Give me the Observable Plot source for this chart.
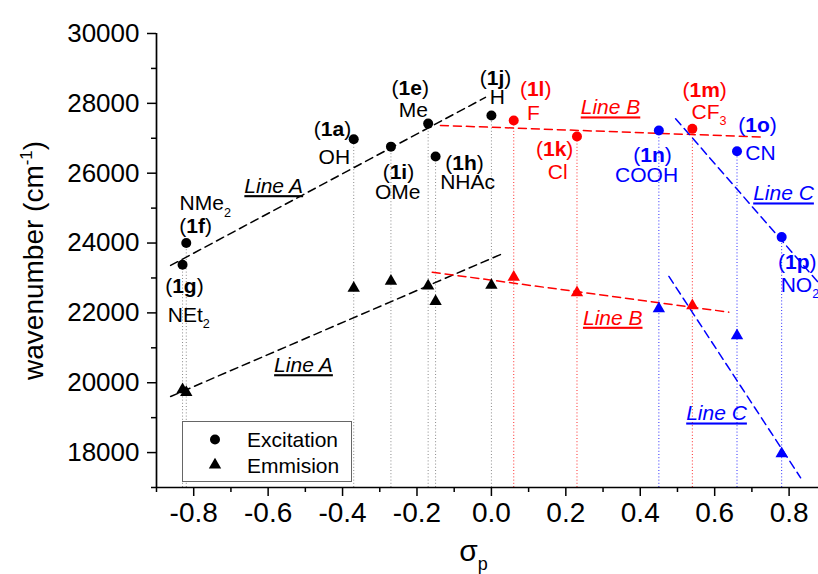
<!DOCTYPE html>
<html><head><meta charset="utf-8">
<script src="https://cdn.jsdelivr.net/npm/d3@7"></script>
<script src="https://cdn.jsdelivr.net/npm/@observablehq/plot@0.6"></script>
<style>
html,body{margin:0;padding:0;background:#fff;overflow:hidden;}
#wrap{position:relative;width:818px;height:574px;font-family:"Liberation Sans",Arial,sans-serif;}
#legend{position:absolute;left:182px;top:421px;}
</style></head><body>
<div id="wrap"></div>
<script>
// ---- data ----
const ids = ["1g","1f","1a","1i","1e","1h","1j","1l","1k","1n","1m","1o","1p"];
const substituents = ["NEt_{2}","NMe_{2}","OH","OMe","Me","NHAc","H","F","Cl","COOH","CF_{3}","CN","NO_{2}"];
const groups = ["A","A","A","A","A","A","A","B","B","C","B","C","C"];
const sigma = [-0.83,-0.82,-0.37,-0.27,-0.17,-0.15,0.00,0.06,0.23,0.45,0.54,0.66,0.78];
const excitation = [23380,24000,26970,26760,27420,26480,27650,27510,27050,27220,27270,26630,24170];
const emission = [19800,19720,22710,22910,22770,22330,22790,23020,22580,22120,22210,21350,17970];

// label anchors (data units)
const idLabelSigma = [-0.825,-0.795,-0.427,-0.250,-0.218,-0.072,0.011,0.119,0.170,0.433,0.573,0.715,0.822];
const idLabelWn = [22565,24283,27061,25841,28247,26099,28533,28207,26480,26317,28178,27176,23264];
const nameLabelSigma = [-0.813,-0.769,-0.422,-0.252,-0.210,-0.064,0.016,0.113,0.178,0.417,0.585,0.723,0.829];
const nameLabelWn = [21734,24933,26251,25268,27605,25555,27969,27511,25841,25744,27560,26385,22593];

// fitted lines
const fitKeys = ["A-exc","A-em","B-exc","B-em","C-exc","C-em"];
const fitGroups = ["A","A","B","B","C","C"];
const fitSigma = [[-0.862,-0.016],[-0.862,0.033],[-0.137,0.732],[-0.159,0.638],[0.495,0.879],[0.477,0.831]];
const fitWn = [[23358,28170],[19606,23710],[27368,27033],[23166,22021],[27560,22864],[23043,17278]];

const lineLabelText = ["Line A","Line A","Line B","Line B","Line C","Line C"];
const lineLabelGroup = ["A","A","B","B","C","C"];
const lineLabelSigma = [-0.585,-0.505,0.320,0.326,0.785,0.605];
const lineLabelWn = [25429,20302,27683,21660,25220,18919];

const xTicks = [-0.8,-0.6,-0.4,-0.2,0.0,0.2,0.4,0.6,0.8];
const xMinor = [-0.9,-0.7,-0.5,-0.3,-0.1,0.1,0.3,0.5,0.7];
const yTicks = [18000,20000,22000,24000,26000,28000,30000];
const yMinor = [17000,19000,21000,23000,25000,27000,29000];
const xDomain = [-0.9, 0.879];
const yDomain = [17000, 30000];

// ---- build ----
const colorOf = {A: "#000000", B: "#ff0000", C: "#0000ff"};
const dropOf = {A: "#8a8a8a", B: "#ff2a2a", C: "#2a2aff"};
const pts = ids.map((id, i) => ({id, name: substituents[i], group: groups[i], sigma: sigma[i], exc: excitation[i], em: emission[i]}));
const idRows = ids.map((id, i) => ({t: `(**${id}**)`, x: idLabelSigma[i], y: idLabelWn[i], group: groups[i]}));
const nameRows = substituents.map((s, i) => ({t: s, x: nameLabelSigma[i], y: nameLabelWn[i], group: groups[i]}));
const fitRows = fitKeys.flatMap((k, i) => fitSigma[i].map((s, j) => ({key: k, group: fitGroups[i], x: s, y: fitWn[i][j]})));
const lineLabelRows = lineLabelText.map((t, i) => ({t, x: lineLabelSigma[i], y: lineLabelWn[i], group: lineLabelGroup[i]}));

const font = '"Liberation Sans", Arial, sans-serif';
const plot = Plot.plot({
  width: 818, height: 574,
  marginLeft: 156, marginRight: 0, marginTop: 33, marginBottom: 87,
  style: {fontFamily: font, background: "white", color: "black"},
  x: {domain: xDomain, label: null},
  y: {domain: yDomain, label: null},
  marks: [
    Plot.ruleX(pts, {x: "sigma", y1: () => yDomain[0], y2: "exc", stroke: d => dropOf[d.group], strokeWidth: 1, strokeDasharray: "1,2.2"}),
    Plot.line(fitRows, {x: "x", y: "y", z: "key", stroke: d => colorOf[d.group], strokeWidth: 1.5, strokeDasharray: "8,5", clip: true}),
    Plot.ruleY([yDomain[0]], {stroke: "black", strokeWidth: 1.7}),
    Plot.ruleX([xDomain[0]], {stroke: "black", strokeWidth: 1.7}),
    Plot.axisX(xTicks, {tickFormat: d => d.toFixed(1), tickSize: 9, tickPadding: 6, fontSize: 28, strokeWidth: 1.5, label: null}),
    Plot.axisX(xMinor, {tickFormat: () => "", tickSize: 5, strokeWidth: 1.5, label: null}),
    Plot.axisY(yTicks, {tickFormat: d => String(d), tickSize: 9, tickPadding: 8, fontSize: 26, strokeWidth: 1.5, label: null}),
    Plot.axisY(yMinor, {tickFormat: () => "", tickSize: 5, strokeWidth: 1.5, label: null}),
    Plot.dot(pts, {x: "sigma", y: "exc", r: 5, fill: d => colorOf[d.group], symbol: "circle"}),
    Plot.dot(pts, {x: "sigma", y: "em", r: 4.6, fill: d => colorOf[d.group], symbol: "triangle"}),
    Plot.text(idRows, {x: "x", y: "y", text: "t", fill: d => colorOf[d.group], fontSize: 21, textAnchor: "middle", lineAnchor: "bottom"}),
    Plot.text(nameRows, {x: "x", y: "y", text: "t", fill: d => colorOf[d.group], fontSize: 21, textAnchor: "middle", lineAnchor: "bottom"}),
    Plot.text(lineLabelRows, {x: "x", y: "y", text: "t", fill: d => colorOf[d.group], fontSize: 21, fontStyle: "italic", textAnchor: "middle", lineAnchor: "bottom"}),
    Plot.text(["wavenumber (cm^{-1})"], {text: d => d, frameAnchor: "left", rotate: -90, dx: -122, fontSize: 28, lineAnchor: "middle", textAnchor: "middle", fill: "black"}),
    Plot.text(["σ_{p}"], {text: d => d, frameAnchor: "bottom", dx: -14, dy: 64, fontSize: 30, lineAnchor: "middle", textAnchor: "middle", fill: "black"})
  ]
});

const wrap = document.getElementById("wrap");
wrap.appendChild(plot);

function richify(root) {
  const ns = "http://www.w3.org/2000/svg";
  root.querySelectorAll("text").forEach(t => {
    const s = t.textContent;
    if (!/\*\*|_\{|\^\{/.test(s)) return;
    const fs = parseFloat(getComputedStyle(t).fontSize) || 16;
    const parts = s.split(/(\*\*.+?\*\*|_\{.+?\}|\^\{.+?\})/).filter(p => p.length);
    t.textContent = "";
    let off = 0;
    for (const p of parts) {
      const ts = document.createElementNS(ns, "tspan");
      let target = 0, txt = p;
      if (p.startsWith("**")) { txt = p.slice(2, -2); ts.setAttribute("font-weight", "bold"); }
      else if (p.startsWith("_{")) { txt = p.slice(2, -1); target = 0.3 * fs; ts.setAttribute("font-size", (0.6 * fs) + "px"); }
      else if (p.startsWith("^{")) { txt = p.slice(2, -1); target = -0.42 * fs; ts.setAttribute("font-size", (0.6 * fs) + "px"); }
      if (target !== off) { ts.setAttribute("dy", (target - off) + "px"); off = target; }
      ts.textContent = txt;
      t.appendChild(ts);
    }
  });
  root.querySelectorAll("text").forEach(t => {
    if (/^Line /.test(t.textContent)) t.style.textDecoration = "underline";
  });
}
richify(plot);

// legend
const lg = d3.select(wrap).append("svg").attr("id", "legend").attr("width", 171).attr("height", 62)
  .style("font-family", font);
lg.append("rect").attr("x", 0.5).attr("y", 0.5).attr("width", 169).attr("height", 60).attr("fill", "white").attr("stroke", "#666");
lg.append("path").attr("transform", "translate(33,18.5)").attr("d", d3.symbol(d3.symbolCircle, Math.PI * 25)()).attr("fill", "black");
lg.append("path").attr("transform", "translate(33,44)").attr("d", d3.symbol(d3.symbolTriangle, Math.PI * 4.6 * 4.6)()).attr("fill", "black");
lg.append("text").attr("x", 65).attr("y", 25.5).attr("font-size", 21).text("Excitation");
lg.append("text").attr("x", 65).attr("y", 52).attr("font-size", 21).text("Emmision");
</script>
</body></html>
